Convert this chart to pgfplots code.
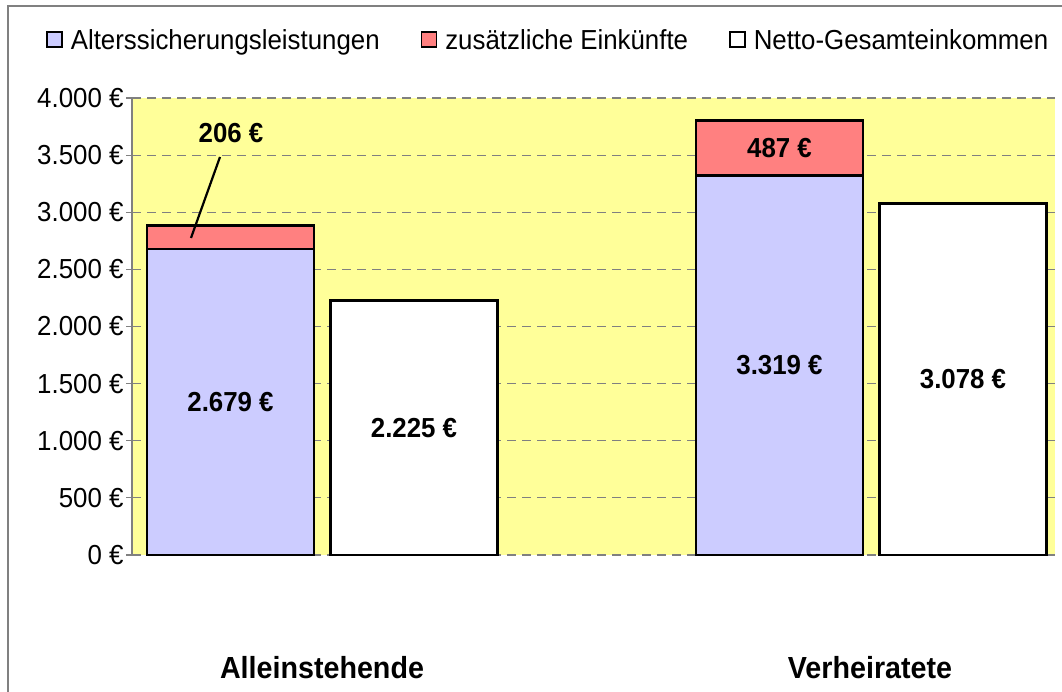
\documentclass[border=0pt]{standalone}
\usepackage{fontspec}
\setmainfont{Liberation Sans}[FakeStretch=0.94]
\usepackage{pgfplots}
\pgfplotsset{compat=1.18}
\definecolor{cblue}{HTML}{CCCCFF}
\definecolor{cred}{HTML}{FF8080}
\definecolor{cyel}{HTML}{FFFF99}
\definecolor{cgrid}{HTML}{808080}
\begin{document}
\begin{tikzpicture}[x=1bp,y=1bp]
\useasboundingbox (0,0) rectangle (1062,692);
\fill[white] (0,0) rectangle (1062,692);
\draw[cgrid, line width=1.2bp] (8,-20) -- (8,686) -- (1100,686);
\begin{axis}[
  at={(132bp,137bp)}, anchor=south west,
  scale only axis, width=923bp, height=457bp,
  xmin=132, xmax=1055, ymin=0, ymax=4000,
  clip=false,
  axis background/.style={fill=cyel},
  axis x line=bottom, axis y line=left,
  axis line style={-},
  x axis line style={draw=none},
  y axis line style={draw=cgrid, line width=1.2bp},
  xtick={322,870},
  xticklabels={Alleinstehende,Verheiratete},
  xtick style={draw=none},
  xticklabel style={font=\bfseries\fontsize{30.5bp}{35bp}\selectfont, yshift=-92bp},
  ytick={0,500,1000,1500,2000,2500,3000,3500,4000},
  yticklabels={0 €,500 €,1.000 €,1.500 €,2.000 €,2.500 €,3.000 €,3.500 €,4.000 €},
  yticklabel style={font=\fontsize{27.5bp}{31bp}\selectfont, xshift=1bp},
  ytick style={draw=cgrid, line width=1.2bp},
  tick align=outside, major tick length=6bp,
  ymajorgrids,
  grid style={dashed, draw=cgrid, line width=1.2bp, dash pattern=on 9bp off 6bp},
  legend columns=3,
  legend cell align=left,
  legend style={draw=none, fill=none, inner sep=0pt,
    at={(-0.0932,1.1269)}, anchor=west,
    font=\fontsize{27.5bp}{31bp}\selectfont,
    nodes={inner sep=0pt},
    /tikz/every odd column/.append style={column sep=8bp},
    /tikz/every even column/.append style={column sep=41bp}},
]
\addlegendimage{legend image code/.code={\draw[fill=cblue, draw=black, line width=1.6bp] (0bp,-7bp) rectangle (15bp,8bp);}}
\addlegendentry{Alterssicherungsleistungen}
\addlegendimage{legend image code/.code={\draw[fill=cred, draw=black, line width=1.6bp] (0bp,-7bp) rectangle (15bp,8bp);}}
\addlegendentry{zusätzliche Einkünfte}
\addlegendimage{legend image code/.code={\draw[fill=white, draw=black, line width=1.6bp] (0bp,-7bp) rectangle (15bp,8bp);}}
\addlegendentry{Netto-Gesamteinkommen}
% totals (Alterssicherung + zusaetzliche Einkuenfte), drawn first
\addplot[ybar, bar width=167, bar shift=0pt, fill=cred, draw=black, line width=2.8bp, forget plot]
  coordinates {(230.5,2885) (779.5,3806)};
\addplot[ybar, bar width=167, bar shift=0pt, fill=cblue, draw=black, line width=2.8bp, forget plot]
  coordinates {(230.5,2679) (779.5,3319)};
\addplot[ybar, bar width=167, bar shift=0pt, fill=white, draw=black, line width=2.8bp, forget plot]
  coordinates {(414,2225) (963,3078)};
\begin{scope}[font=\bfseries\fontsize{27.5bp}{31bp}\selectfont]
\node at (axis cs:230.5,1340) {2.679 €};
\node at (axis cs:414,1112) {2.225 €};
\node at (axis cs:779.5,1660) {3.319 €};
\node at (axis cs:963,1539) {3.078 €};
\node at (axis cs:779.5,3562) {487 €};
\node at (axis cs:231,3694) {206 €};
\end{scope}
\draw[line width=2.2bp] (axis cs:220,3484) -- (axis cs:191,2775);
\end{axis}
\end{tikzpicture}
\end{document}
